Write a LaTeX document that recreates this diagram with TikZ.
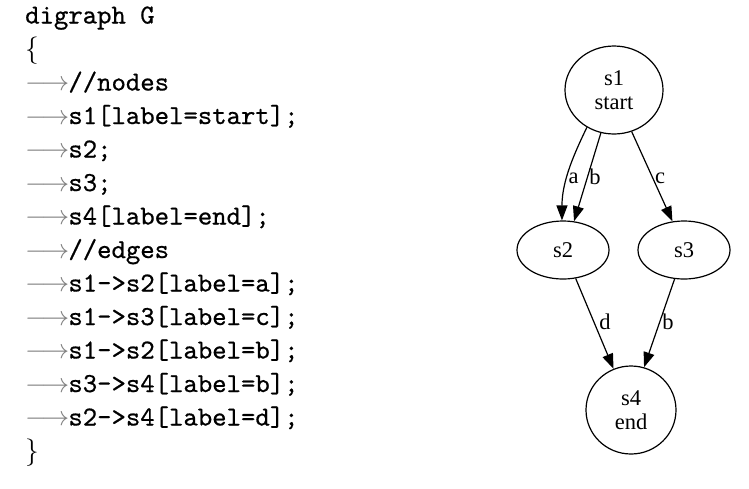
\documentclass[tikz,border=0pt]{standalone}
\usepackage{fix-cm}
\usepackage{fontspec}
\newfontfamily\gvfont{Liberation Serif}
\newfontfamily\codefont{lmmono10-regular.otf}[FakeBold=0.6]
\usetikzlibrary{arrows.meta,shapes.geometric}
\newcommand\tabarrow{\makebox[43.2pt][l]{\textcolor{gray}{$\longrightarrow$}}}
\tikzset{
  codeline/.style={anchor=base west, inner sep=0pt, font=\codefont\fontsize{27.4}{33.5}\selectfont},
  gvnode/.style={draw, ellipse, line width=1.2pt, inner sep=0pt, align=center,
                 font=\gvfont\fontsize{22.5}{24.5}\selectfont},
  elabel/.style={inner sep=0pt, font=\gvfont\fontsize{22.5}{24.5}\selectfont},
  gvedge/.style={line width=1.2pt, -{Triangle[length=15pt,width=11pt]}}
}
\begin{document}
\begin{tikzpicture}[x=1pt,y=-1pt]
\useasboundingbox (0,0) rectangle (749,488);
% code listing
\node[codeline] (c1)  at (25,23.5)  {digraph G};
\node[codeline] (c2)  at (25,57)    {$\{$};
\node[codeline] (c3)  at (25,90.5)  {\tabarrow//nodes};
\node[codeline] (c4)  at (25,124)   {\tabarrow s1[label=start];};
\node[codeline] (c5)  at (25,157.5) {\tabarrow s2;};
\node[codeline] (c6)  at (25,191)   {\tabarrow s3;};
\node[codeline] (c7)  at (25,224.5) {\tabarrow s4[label=end];};
\node[codeline] (c8)  at (25,258)   {\tabarrow//edges};
\node[codeline] (c9)  at (25,291.5) {\tabarrow s1->s2[label=a];};
\node[codeline] (c10) at (25,325)   {\tabarrow s1->s3[label=c];};
\node[codeline] (c11) at (25,358.5) {\tabarrow s1->s2[label=b];};
\node[codeline] (c12) at (25,392)   {\tabarrow s3->s4[label=b];};
\node[codeline] (c13) at (25,425.5) {\tabarrow s2->s4[label=d];};
\node[codeline] (c14) at (25,459)   {$\}$};
% graph
\node[gvnode, minimum width=98pt, minimum height=88pt] (s1) at (614,90) {s1\\start};
\node[gvnode, minimum width=92pt, minimum height=58pt] (s2) at (563,250) {s2};
\node[gvnode, minimum width=92pt, minimum height=58pt] (s3) at (684,250) {s3};
\node[gvnode, minimum width=90pt, minimum height=88pt] (s4) at (631,410) {s4\\end};
\draw[gvedge] (s1.234) .. controls +(-12,25) and +(0,-40) .. (s2.92);
\draw[gvedge] (s1.253) -- (s2.69);
\draw[gvedge] (s1.293) -- (s3.112);
\draw[gvedge] (s2.-66) -- (s4.113);
\draw[gvedge] (s3.-108) -- (s4.73);
\node[elabel] (la) at (573.5,178.5) {a};
\node[elabel] (lb) at (595,177) {b};
\node[elabel] (lc) at (660,178.5) {c};
\node[elabel] (ld) at (605,322) {d};
\node[elabel] (lb2) at (668,322) {b};
\end{tikzpicture}
\end{document}
